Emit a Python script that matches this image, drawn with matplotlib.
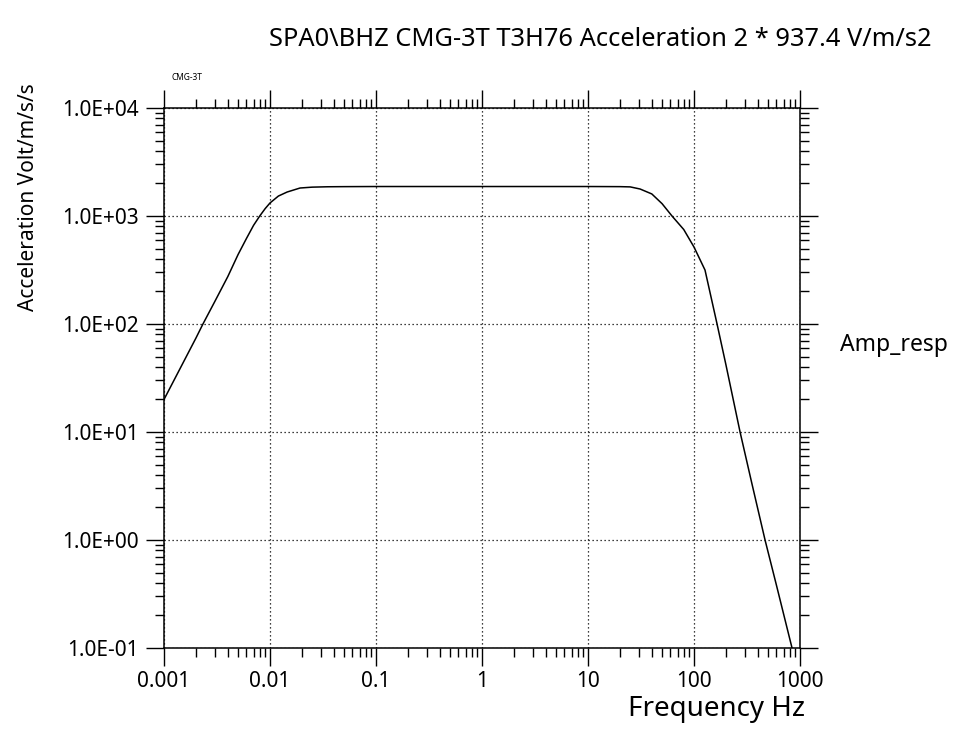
import matplotlib
matplotlib.use("Agg")
import matplotlib.pyplot as plt
from matplotlib.ticker import LogLocator, FixedLocator, NullFormatter
import numpy as np

plt.rcParams['font.family'] = ['Noto Sans', 'DejaVu Sans']
plt.rcParams['font.stretch'] = 'condensed'
plt.rcParams['font.weight'] = 'light'

# Data
freq_hz = [0.001, 0.0015, 0.002, 0.00233, 0.003, 0.004, 0.005, 0.006, 0.007, 0.008,
           0.009, 0.01, 0.012, 0.0145, 0.0192, 0.025, 0.035, 0.05, 0.1, 1, 10,
           20, 25, 31, 40, 50, 62, 80, 100, 127, 165, 200, 272, 350, 468, 600, 841]
amp_resp = [20, 43, 74, 100, 160, 275, 440, 620, 820, 1000,
            1170, 1320, 1530, 1667, 1816, 1850, 1865, 1870, 1875, 1875, 1875,
            1870, 1860, 1778, 1600, 1300, 1000, 750, 516, 316, 100, 42, 10, 3.4, 1.0, 0.38, 0.1]

x_ticks = [0.001, 0.01, 0.1, 1, 10, 100, 1000]
x_tick_labels = ['0.001', '0.01', '0.1', '1', '10', '100', '1000']
y_ticks = [0.1, 1, 10, 100, 1000, 10000]
y_tick_labels = ['1.0E-01', '1.0E+00', '1.0E+01', '1.0E+02', '1.0E+03', '1.0E+04']

title = r"SPA0\BHZ CMG-3T T3H76 Acceleration 2 * 937.4 V/m/s2"
subtitle = "CMG-3T"
xlabel = "Frequency Hz"
ylabel = "Acceleration Volt/m/s/s"
legend_label = "Amp_resp"

fig = plt.figure(figsize=(9.66, 7.29), dpi=100)
ax = fig.add_axes([164/966, 1-648/729, 636/966, 540/729])
ax.set_xscale('log')
ax.set_yscale('log')
ax.plot(freq_hz, amp_resp, color='black', lw=1.1)
ax.set_xlim(0.001, 1000)
ax.set_ylim(0.1, 10000)

ax.xaxis.set_major_locator(FixedLocator(x_ticks))
ax.yaxis.set_major_locator(FixedLocator(y_ticks))
ax.set_xticklabels(x_tick_labels)
ax.set_yticklabels(y_tick_labels)
ax.xaxis.set_minor_locator(LogLocator(base=10, subs=np.arange(2, 10), numticks=20))
ax.yaxis.set_minor_locator(LogLocator(base=10, subs=np.arange(2, 10), numticks=20))
ax.xaxis.set_minor_formatter(NullFormatter())
ax.yaxis.set_minor_formatter(NullFormatter())

ax.tick_params(which='both', direction='out', top=True, right=True, width=1.0,
               color='black', labelsize=15, labelcolor='black')
ax.tick_params(which='major', length=13, pad=3.5)
ax.tick_params(which='minor', length=6.5)
ax.tick_params(axis='y', which='major', pad=5)
for s in ax.spines.values():
    s.set_linewidth(1.1)
    s.set_color('black')

ax.grid(True, which='major', color='black', linestyle=(0, (1, 2.2)), linewidth=0.9)

fig.text(932/966, 1-40/729, title, ha='right', va='center', fontsize=18.3, color='black')
fig.text(171/966, 1-77/729, subtitle, ha='left', va='center', fontsize=6, color='black',
         fontweight='bold')
fig.text(805/966, 1-716/729, xlabel, ha='right', va='baseline', fontsize=20, color='black')
fig.text(29/966, 1-197/729, ylabel, ha='center', va='center', rotation=90, fontsize=15, color='black')
fig.text(840/966, 1-345/729, legend_label, ha='left', va='center', fontsize=16.5, color='black')

fig.savefig('out.png', dpi=100, facecolor='white')
